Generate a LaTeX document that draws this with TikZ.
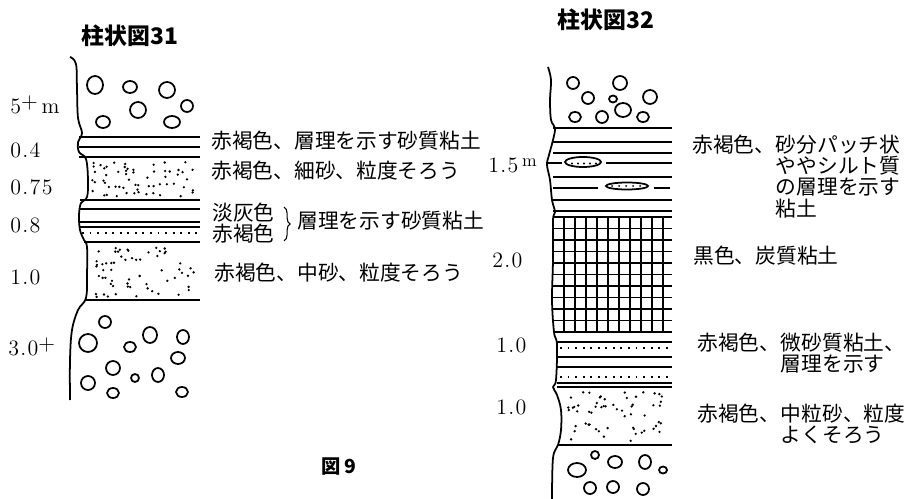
\documentclass[tikz,border=0pt]{standalone}
\usepackage{fontspec}
\setmainfont{Latin Modern Roman}
\newfontfamily\jp{Noto Sans CJK JP}
\newfontfamily\chiffres[LetterSpace=6]{Latin Modern Roman}
\usetikzlibrary{decorations.pathreplacing}

\tikzset{
  couche/.style={line width=1pt},
  grille/.style={line width=0.9pt},
  pointille/.style={line width=1.1pt, dash pattern=on 1.1pt off 3.2pt},
  galet/.style={line width=1pt},
  accolade/.style={decorate, decoration={brace, amplitude=3.5pt}, line width=0.6pt},
  lbl/.style={font=\jp\fontsize{11.8}{12.2}\selectfont, inner sep=0pt, anchor=west},
  lblbloc/.style={lbl, align=left, anchor=north west,
    font=\jp\fontsize{11.8}{12}\selectfont},
  cote/.style={font=\chiffres\fontsize{12.5}{13}\selectfont, inner sep=0pt, anchor=west},
  titre/.style={font=\jp\bfseries\fontsize{13}{14}\selectfont, inner sep=0pt},
}
\newcommand{\caillou}[4]{\draw[galet] (#1,#2) ellipse (#3 and #4);}

\begin{document}
\begin{tikzpicture}[x=0.02cm, y=-0.02cm]
\useasboundingbox (0,0) rectangle (908,499);

% ---------- Colonne 31 ----------
\node[titre] (t31) at (130,36) {柱状図31};

% Bord gauche
\draw[couche] plot[smooth, tension=0.6] coordinates {(70,57) (76,64) (77,90) (78,118)
  (82,133) (78,142) (79,152) (86,159) (88,180) (87,197) (81,203) (79,215) (80,230)
  (84,240) (87,247) (87,275) (86,298) (78,310) (72,330) (70,360) (70,400)};

% Galets du haut
\caillou{95}{85}{8}{9}
\caillou{130}{87}{7}{6}
\caillou{167}{90}{8}{8}
\caillou{138}{110}{8}{8}
\caillou{187}{106}{6}{6}
\caillou{103}{122}{7}{6}
\caillou{172}{122}{8}{6}

% Argile sableuse litee
\foreach \y in {137,147,157}
  \draw[couche] (79,\y) -- (200,\y);

% Sable fin
\pgfmathsetmacro{\r}{1.3}
\pgfmathsetseed{31}
\foreach \i in {1,...,60}
  \fill ({91+104*rnd},{161+36*rnd}) circle (\r);

% Couche 0.8
\foreach \y in {200,209,222,227}
  \draw[couche] (80,\y) -- (200,\y);
\draw[pointille] (82,233) -- (200,233);
\draw[couche] (84,242) -- (200,242);

% Sable moyen
\foreach \i in {1,...,62}
  \fill ({91+104*rnd},{247+50*rnd}) circle (\r);
\draw[couche] (86,300) -- (200,300);

% Galets du bas
\caillou{105}{322}{6}{6}
\caillou{150}{335}{7}{8}
\caillou{183}{337}{6}{7}
\caillou{88}{343}{9}{9}
\caillou{130}{347}{6}{5}
\caillou{178}{358}{7}{6}
\caillou{113}{368}{7}{7}
\caillou{158}{375}{6}{7}
\caillou{135}{378}{4}{4}
\caillou{88}{383}{7}{7}
\caillou{113}{393}{6}{5}
\caillou{182}{392}{6}{5}

% Cotes
\node[cote] (c31a) at (10,105) {5\raisebox{3pt}{+}\,m};
\node[cote] (c31b) at (10,150) {0.4};
\node[cote] (c31c) at (10,187) {0.75};
\node[cote] (c31d) at (10,225) {0.8};
\node[cote] (c31e) at (10,277) {1.0};
\node[cote] (c31f) at (8,347) {3.0\raisebox{3pt}{+}};

% Descriptions
\node[lbl] (d31a) at (211,141) {赤褐色、層理を示す砂質粘土};
\node[lbl] (d31b) at (211,171) {赤褐色、細砂、粒度そろう};
\node[lbl] (d31c) at (212,213) {淡灰色};
\node[lbl] (d31d) at (212,234) {赤褐色};
\coordinate (acc1) at (284,207);
\coordinate (acc2) at (284,241);
\draw[accolade] (acc1) -- (acc2);
\node[lbl] (d31e) at (297,221) {層理を示す砂質粘土};
\node[lbl] (d31f) at (214,273) {赤褐色、中砂、粒度そろう};

% ---------- Colonne 32 ----------
\node[titre] (t32) at (606,20) {柱状図32};

% Bord gauche
\draw[couche] plot[smooth, tension=0.6] coordinates {(548,67) (551,80) (550,100) (551,120)
  (555,128) (553,140) (549,155) (547,165) (550,180) (552,200) (555,212) (553,220)
  (553,260) (552,300) (554,332) (557,345) (556,380) (553,387) (557,395) (561,410)
  (561,430) (558,445) (553,458) (552,499)};

% Galets du haut
\caillou{573}{83}{6}{6}
\caillou{620}{83}{7}{7}
\caillou{588}{98}{6}{6}
\caillou{613}{99}{4}{3.5}
\caillou{650}{97}{7}{7}
\caillou{575}{117}{6}{5}
\caillou{602}{117}{6}{6}
\caillou{623}{110}{8}{7}
\caillou{643}{117}{6}{5}

% Argile litee avec poches de sable
\foreach \y in {128,142,153,177,200,211}
  \draw[couche] (553,\y) -- (672,\y);
\draw[couche] (548,163) -- (562,163);
\draw[couche] (606,163) -- (672,163);
\draw[couche] (553,188) -- (598,188);
\draw[couche] (654,188) -- (670,188);
\draw[couche] (583,162) ellipse (18 and 5);
\draw[couche] (627,186) ellipse (21 and 3.5);
\foreach \x in {572,578,584,590,596}
  \fill (\x,{162+(mod(\x,3)-1)*1.5}) circle (1.1);
\foreach \x in {612,619,626,633,640}
  \fill (\x,186) circle (1);

% Argile charbonneuse
\draw[couche] (553,217) -- (672,217);
\foreach \k in {1,...,9}
  \draw[grille] (553,{217+\k*11.5}) -- (672,{217+\k*11.5});
\foreach \x in {564,575,...,663}
  \draw[grille] (\x,217) -- (\x,332);
\draw[couche] (554,332) -- (672,332);

% Argile silteuse
\foreach \y in {342,357,367,383,387}
  \draw[couche] (557,\y) -- (672,\y);
\draw[pointille] (560,348) -- (668,348);
\draw[pointille] (560,377) -- (668,377);

% Sable moyen
\pgfmathsetseed{32}
\foreach \i in {1,...,58}
  \fill ({566+102*rnd},{392+50*rnd}) circle (\r);
\draw[couche] (558,445) -- (672,445);

% Galets du bas
\caillou{595}{455}{4}{4}
\caillou{615}{462}{7}{6}
\caillou{645}{462}{6}{7}
\caillou{663}{470}{4}{3.5}
\caillou{577}{470}{9}{7}
\caillou{590}{488}{6}{6}
\caillou{613}{487}{6}{6}
\caillou{643}{489}{6}{6}

% Cotes
\node[cote] (c32a) at (488,165) {1.5\,\raisebox{3pt}{\fontsize{10}{10}\selectfont m}};
\node[cote] (c32b) at (492,260) {2.0};
\node[cote] (c32c) at (496,345) {1.0};
\node[cote] (c32d) at (496,407) {1.0};

% Descriptions
\node[lbl] (d32a) at (692,145) {赤褐色、};
\node[lblbloc] (d32b) at (d32a.north east) {砂分パッチ状\\ややシルト質\\の層理を示す\\粘土};
\node[lbl] (d32c) at (693,256) {黒色、炭質粘土};
\node[lbl] (d32d) at (697,343) {赤褐色、};
\node[lblbloc] (d32e) at (d32d.north east) {微砂質粘土、\\層理を示す};
\node[lbl] (d32f) at (697,414) {赤褐色、};
\node[lblbloc] (d32g) at (d32f.north east) {中粒砂、粒度\\よくそろう};

% Legende
\node[titre, font=\jp\bfseries\fontsize{11}{12}\selectfont] (fig) at (339,467) {図 9};
\end{tikzpicture}
\end{document}
